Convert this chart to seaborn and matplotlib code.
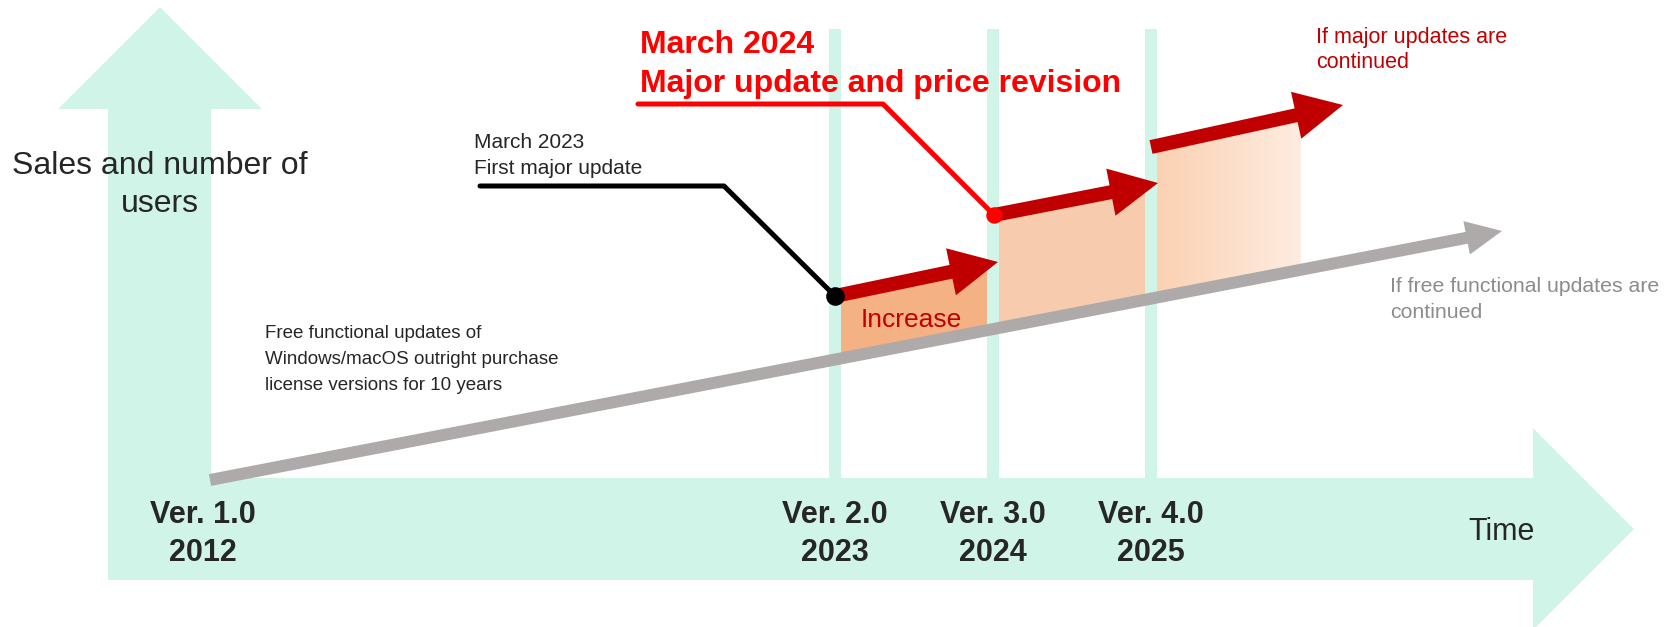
import numpy as np
import pandas as pd
import matplotlib
matplotlib.use("Agg")
import matplotlib.pyplot as plt
import seaborn as sns
from matplotlib.patches import Polygon, Rectangle, FancyArrow

# Dados do diagrama (unidades = pixels da imagem, y para baixo)
release_labels = ["Ver. 1.0\n2012", "Ver. 2.0\n2023", "Ver. 3.0\n2024", "Ver. 4.0\n2025"]
release_x = [203, 835, 993, 1151]

# linha base (atualizações gratuitas)
base_x = [210, 1502]
base_y = [480, 231]

# degraus (atualizações maiores)
step_x0 = [835, 994, 1151]
step_y0 = [296, 215, 147]
step_x1 = [998, 1158, 1343]
step_y1 = [262, 183, 105]
fill_left = [841, 999, 1157]
fill_right = [987, 1145, 1301]
fill_colors = ["#F4B183", "#F7CBAD", None]

# linhas de chamada
black_lead_x = [480, 724, 835]
black_lead_y = [186, 186, 296]
red_lead_x = [638, 883, 994]
red_lead_y = [104, 104, 215]

MINT = "#D1F4E9"
DARK = "#262626"
DARKRED = "#C00000"
DY = 3  # ajuste vertical do texto

sns.set_theme(style="white")
plt.rcParams['font.family'] = ['Liberation Sans', 'DejaVu Sans']

fig = plt.figure(figsize=(16.81, 6.27), dpi=100)
ax = fig.add_axes([0, 0, 1, 1])

# setas dos eixos (formato L)
axes_arrow = [(108, 580), (108, 109), (58, 109), (160, 7), (262, 109), (211, 109),
              (211, 478), (1533, 478), (1533, 428), (1634, 529), (1533, 630), (1533, 580)]
ax.add_patch(Polygon(axes_arrow, closed=True, facecolor=MINT, edgecolor="none", zorder=1))

# faixas verticais das versões
for x in release_x[1:]:
    ax.add_patch(Rectangle((x - 6, 29), 12, 478 - 29, facecolor=MINT, edgecolor="none", zorder=1))


def base_line(x):
    return base_y[0] + (base_y[1] - base_y[0]) / (base_x[1] - base_x[0]) * (x - base_x[0])


def step_line(i, x):
    return step_y0[i] + (step_y1[i] - step_y0[i]) / (step_x1[i] - step_x0[i]) * (x - step_x0[i])


# áreas de aumento
for i in range(3):
    xl, xr = fill_left[i], fill_right[i]
    pts = [(xl, step_line(i, xl)), (xr, step_line(i, xr)), (xr, base_line(xr)), (xl, base_line(xl))]
    if fill_colors[i] is not None:
        ax.add_patch(Polygon(pts, closed=True, facecolor=fill_colors[i], edgecolor="none", zorder=2))
    else:
        poly = Polygon(pts, closed=True, facecolor="none", edgecolor="none", zorder=2)
        ax.add_patch(poly)
        c0 = np.array([251, 209, 178]) / 255
        c1 = np.array([254, 236, 224]) / 255
        t = np.linspace(0, 1, 200)[None, :, None]
        grad = c0 + (c1 - c0) * t
        ymin = min(p[1] for p in pts)
        ymax = max(p[1] for p in pts)
        im = ax.imshow(grad, extent=[xl, xr, ymax, ymin], aspect="auto", zorder=2, interpolation="bilinear")
        im.set_clip_path(poly)

# seta cinza (base)
ax.add_patch(FancyArrow(base_x[0], base_y[0], base_x[1] - base_x[0], base_y[1] - base_y[0],
                        width=12, head_width=34, head_length=36, length_includes_head=True,
                        facecolor="#AEAAAA", edgecolor="none", zorder=3))

# setas vermelhas
for i in range(3):
    ax.add_patch(FancyArrow(step_x0[i], step_y0[i], step_x1[i] - step_x0[i], step_y1[i] - step_y0[i],
                            width=14, head_width=48, head_length=48, length_includes_head=True,
                            facecolor=DARKRED, edgecolor="none", zorder=4))

# linhas de chamada
leads = pd.DataFrame({"x": black_lead_x + red_lead_x,
                      "y": black_lead_y + red_lead_y,
                      "k": ["black"] * 3 + ["red"] * 3})
sns.lineplot(data=leads, x="x", y="y", hue="k", palette={"black": "black", "red": "#FF0000"},
             sort=False, estimator=None, linewidth=3.6, legend=False, ax=ax, zorder=5)
sns.scatterplot(x=[black_lead_x[-1]], y=[black_lead_y[-1]], color="black", s=180, linewidth=0, ax=ax, zorder=6)
sns.scatterplot(x=[red_lead_x[-1]], y=[red_lead_y[-1]], color="#FF0000", s=140, linewidth=0, ax=ax, zorder=6)

# textos
for lab, x in zip(release_labels, release_x):
    l1, l2 = lab.split("\n")
    ax.text(x, 512 + DY, l1, ha="center", va="center", fontsize=22, fontweight="bold", color=DARK, zorder=7)
    ax.text(x, 550 + DY, l2, ha="center", va="center", fontsize=22, fontweight="bold", color=DARK, zorder=7)

ax.text(1502, 529 + DY, "Time", ha="center", va="center", fontsize=22, color=DARK, zorder=7)
ax.text(160, 163 + DY, "Sales and number of", ha="center", va="center", fontsize=23, color=DARK, zorder=7)
ax.text(160, 201 + DY, "users", ha="center", va="center", fontsize=23, color=DARK, zorder=7)

ax.text(640, 42 + DY, "March 2024", ha="left", va="center", fontsize=23, fontweight="bold", color="#FF0000", zorder=7)
ax.text(640, 81 + DY, "Major update and price revision", ha="left", va="center", fontsize=23,
        fontweight="bold", color="#FF0000", zorder=7)

ax.text(474, 140 + 2, "March 2023", ha="left", va="center", fontsize=15, color=DARK, zorder=7)
ax.text(474, 166 + 2, "First major update", ha="left", va="center", fontsize=15, color=DARK, zorder=7)

for k, line in enumerate(["Free functional updates of", "Windows/macOS outright purchase",
                          "license versions for 10 years"]):
    ax.text(265, 334 + k * 25.5, line, ha="left", va="center", fontsize=13.5, color=DARK, zorder=7)

ax.text(911, 317 + DY, "Increase", ha="center", va="center", fontsize=19, color=DARKRED, zorder=7)

ax.text(1316, 35 + 2, "If major updates are", ha="left", va="center", fontsize=15.5, color=DARKRED, zorder=7)
ax.text(1316, 60 + 2, "continued", ha="left", va="center", fontsize=15.5, color=DARKRED, zorder=7)

ax.text(1390, 285 + 2, "If free functional updates are", ha="left", va="center", fontsize=15.3, color="#8C8C8C", zorder=7)
ax.text(1390, 310 + 2, "continued", ha="left", va="center", fontsize=15.3, color="#8C8C8C", zorder=7)

ax.set_xlim(0, 1681)
ax.set_ylim(627, 0)
ax.axis("off")

fig.savefig("out.png", dpi=100, facecolor="white")
